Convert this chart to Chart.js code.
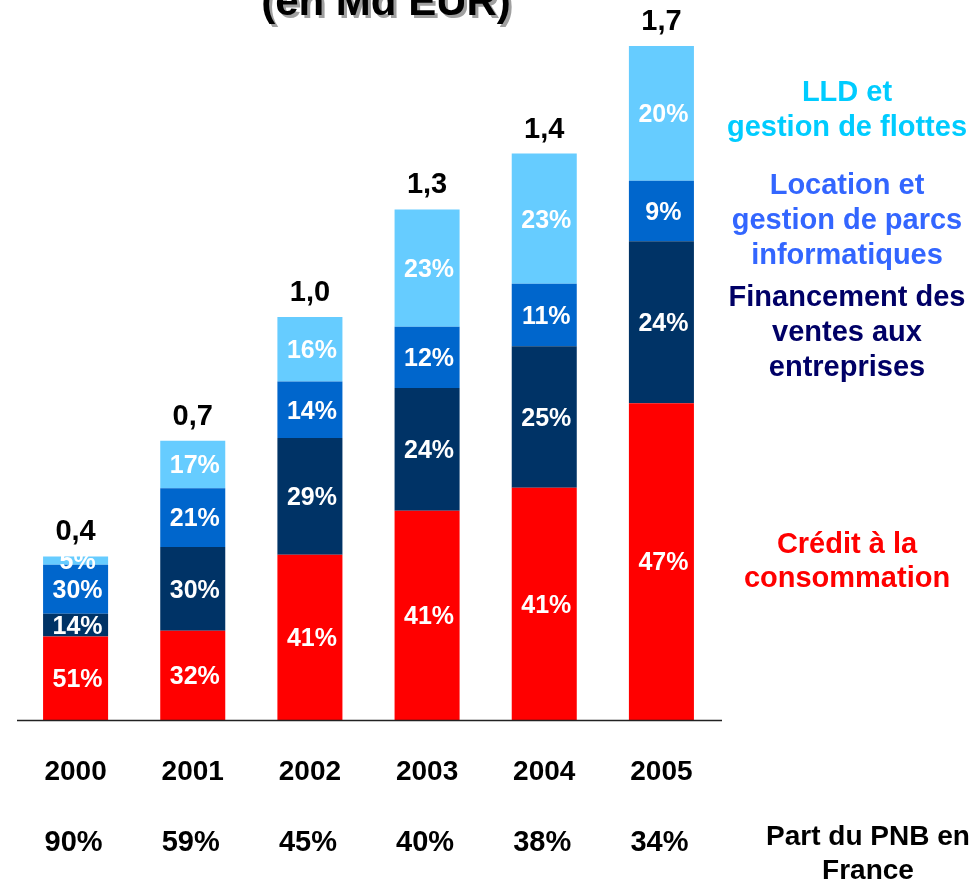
<!DOCTYPE html>
<html>
<head>
<meta charset="utf-8">
<script src="https://cdn.jsdelivr.net/npm/chart.js@4"></script>
<style>
  html, body { margin: 0; padding: 0; background: #fff; }
  #wrap { width: 976px; height: 886px; position: relative; }
</style>
</head>
<body>
<div id="wrap"><canvas id="pnbChart" width="976" height="886"></canvas></div>
<script>
// Data
const years = ['2000', '2001', '2002', '2003', '2004', '2005'];
const totalLabels = ['0,4', '0,7', '1,0', '1,3', '1,4', '1,7'];
const totals = [0.41, 0.70, 1.01, 1.28, 1.42, 1.69]; // Md EUR
const creditPct = [51, 32, 41, 41, 41, 47];
const financementPct = [14, 30, 29, 24, 25, 24];
const locationPct = [30, 21, 14, 12, 11, 9];
const lldPct = [5, 17, 16, 23, 23, 20];
const pnbShare = [90, 59, 45, 40, 38, 34];

const FONT = '"Liberation Sans", Arial, sans-serif';

// segment size in Md EUR = total * share
const toValues = pct => pct.map((p, i) => totals[i] * p / 100);

const datasets = [
    { label: 'Crédit à la consommation', pct: creditPct, backgroundColor: '#ff0000' },
    { label: 'Financement des ventes aux entreprises', pct: financementPct, backgroundColor: '#003366' },
    { label: 'Location et gestion de parcs informatiques', pct: locationPct, backgroundColor: '#0066cc' },
    { label: 'LLD et gestion de flottes', pct: lldPct, backgroundColor: '#66ccff' }
].map(d => ({
    label: d.label,
    pct: d.pct,
    data: toValues(d.pct),
    backgroundColor: d.backgroundColor,
    borderWidth: 0,
    barPercentage: 0.555,
    categoryPercentage: 1.0
}));

// Side legend: lines, colour, y centre of first line, line step
const legendBlocks = [
    { lines: ['LLD et', 'gestion de flottes'], color: '#00ccff', y: 93, step: 35 },
    { lines: ['Location et', 'gestion de parcs', 'informatiques'], color: '#3366ff', y: 186, step: 35 },
    { lines: ['Financement des', 'ventes aux', 'entreprises'], color: '#000066', y: 298, step: 35 },
    { lines: ['Crédit à la', 'consommation'], color: '#ff0000', y: 545, step: 34 }
];

const annotations = {
    id: 'annotations',
    afterDatasetsDraw(chart) {
        const c = chart.ctx;
        const xs = chart.scales.x;
        const ys = chart.scales.y;
        const area = chart.chartArea;
        c.save();
        c.textAlign = 'center';
        c.textBaseline = 'middle';

        // percentages inside segments
        c.fillStyle = '#fff';
        c.font = 'bold 25px ' + FONT;
        chart.data.datasets.forEach((ds, di) => {
            const meta = chart.getDatasetMeta(di);
            meta.data.forEach((bar, i) => {
                const yMid = (bar.y + bar.base) / 2 + 2;
                c.fillText(ds.pct[i] + '%', bar.x + 2, yMid);
            });
        });

        // totals above bars
        c.fillStyle = '#000';
        c.font = 'bold 29px ' + FONT;
        totals.forEach((t, i) => {
            const x = xs.getPixelForValue(i);
            const y = ys.getPixelForValue(t);
            c.fillText(totalLabels[i], x, y - 24);
        });

        // axis line
        c.strokeStyle = '#222';
        c.lineWidth = 1.5;
        c.beginPath();
        c.moveTo(area.left, area.bottom + 0.5);
        c.lineTo(area.right + 2, area.bottom + 0.5);
        c.stroke();

        // years and share of PNB
        years.forEach((yr, i) => {
            const x = xs.getPixelForValue(i);
            c.font = 'bold 28px ' + FONT;
            c.fillText(yr, x, 772);
            c.font = 'bold 29px ' + FONT;
            c.fillText(pnbShare[i] + '%', x - 2, 843);
        });
        c.font = 'bold 28px ' + FONT;
        c.fillText('Part du PNB en', 868, 837);
        c.fillText('France', 868, 871);

        // side legend
        c.font = 'bold 29px ' + FONT;
        legendBlocks.forEach(b => {
            c.fillStyle = b.color;
            b.lines.forEach((line, k) => c.fillText(line, 847, b.y + k * b.step));
        });

        // title, mostly cut off at the top
        c.font = 'bold 42px ' + FONT;
        c.textBaseline = 'alphabetic';
        c.fillStyle = '#a0a0a0';
        c.fillText('(en Md EUR)', 389, 18);
        c.fillStyle = '#000';
        c.fillText('(en Md EUR)', 386, 15);
        c.restore();
    }
};

new Chart(document.getElementById('pnbChart'), {
    type: 'bar',
    data: { labels: years, datasets: datasets },
    options: {
        responsive: false,
        animation: false,
        layout: { padding: { top: 2, bottom: 166, left: 17, right: 256 } },
        plugins: { legend: { display: false }, tooltip: { enabled: false } },
        scales: {
            x: { stacked: true, display: false },
            y: { stacked: true, display: false, min: 0, max: 1.8 }
        }
    },
    plugins: [annotations]
});
</script>
</body>
</html>
